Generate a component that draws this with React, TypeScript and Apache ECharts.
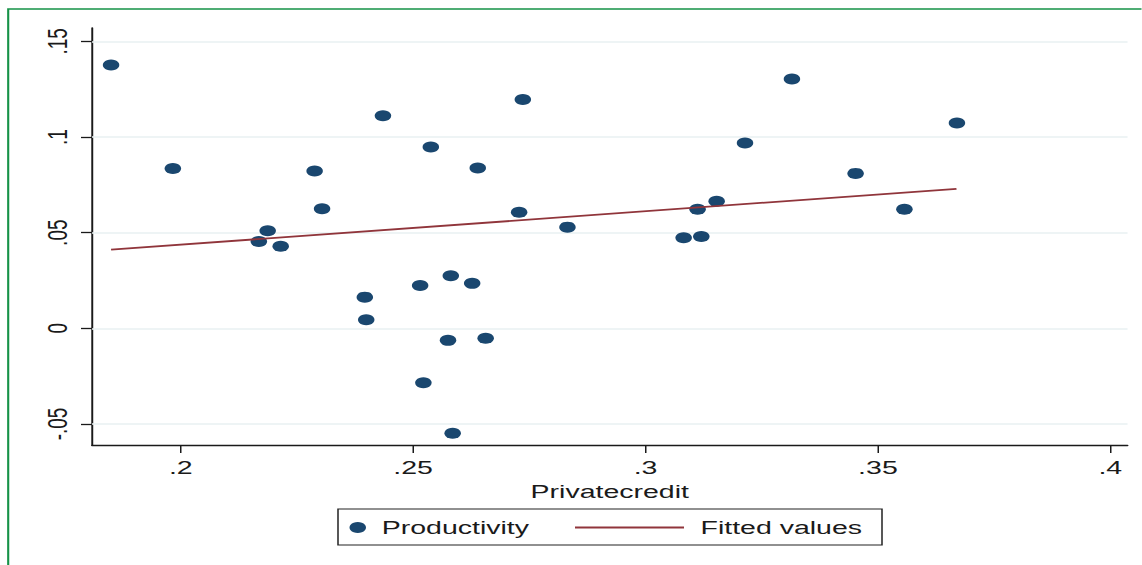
import React, { useEffect, useRef } from 'react';
import * as echarts from 'echarts';

// ---- data ----
const privateCredit = [
  0.1850, 0.1983, 0.2168, 0.2187, 0.2215, 0.2288, 0.2304, 0.2396, 0.2399, 0.2435,
  0.2515, 0.2522, 0.2538, 0.2575, 0.2581, 0.2585, 0.2627, 0.2639, 0.2656, 0.2728,
  0.2736, 0.2832, 0.3082, 0.3112, 0.3120, 0.3153, 0.3214, 0.3315, 0.3452, 0.3557,
  0.3670,
];
const productivity = [
  0.1377, 0.0835, 0.0454, 0.0510, 0.0429, 0.0823, 0.0625, 0.0163, 0.0045, 0.1111,
  0.0224, -0.0285, 0.0948, -0.0063, 0.0275, -0.0548, 0.0235, 0.0838, -0.0052, 0.0607,
  0.1196, 0.0529, 0.0473, 0.0622, 0.0480, 0.0664, 0.0969, 0.1303, 0.0810, 0.0622,
  0.1073,
];
const fittedX = [0.1850, 0.3669];
const fittedY = [0.0411, 0.0729];

const xTickValues = [0.2, 0.25, 0.3, 0.35, 0.4];
const xTickLabels = ['.2', '.25', '.3', '.35', '.4'];
const yTickValues = [-0.05, 0, 0.05, 0.1, 0.15];
const yTickLabels = ['-.05', '0', '.05', '.1', '.15'];

const X_MIN = 0.1809;
const X_MAX = 0.4037;
const Y_MIN = -0.061;
const Y_MAX = 0.157;

// the reference image is stretched horizontally
const STRETCH = 1.5;
const W = 1142;
const H = 565;
const IW = W / STRETCH;
const sx = (px: number) => px / STRETCH;

const FONT = "'Liberation Sans', Arial, sans-serif";
const TEXT = '#1a1a1a';

const lookup = (values: number[], labels: string[]) => (v: number) => {
  const i = values.findIndex((t) => Math.abs(t - v) < 1e-9);
  return i >= 0 ? labels[i] : '';
};

export default function App() {
  const ref = useRef<HTMLDivElement>(null);

  useEffect(() => {
    if (!ref.current) return;
    const chart = echarts.init(ref.current, null, { renderer: 'svg' });
    const option: any = {
      animation: false,
      backgroundColor: '#ffffff',
      textStyle: { fontFamily: FONT },
      grid: { left: sx(92), right: sx(14), top: 28, bottom: 120, containLabel: false },
      xAxis: {
        type: 'value',
        min: X_MIN,
        max: X_MAX,
        name: 'Privatecredit',
        nameLocation: 'middle',
        nameGap: 33,
        nameTextStyle: { fontSize: 19, color: TEXT, fontFamily: FONT },
        axisLine: { show: true, onZero: false, lineStyle: { color: TEXT, width: 1.3 } },
        axisTick: { show: true, customValues: xTickValues, length: 8, lineStyle: { color: TEXT, width: 1 } },
        axisLabel: {
          customValues: xTickValues,
          formatter: lookup(xTickValues, xTickLabels),
          fontSize: 19,
          color: TEXT,
          fontFamily: FONT,
          margin: 13,
        },
        splitLine: { show: false },
      },
      yAxis: {
        type: 'value',
        min: Y_MIN,
        max: Y_MAX,
        axisLine: { show: true, onZero: false, lineStyle: { color: TEXT, width: 1.3 } },
        axisTick: { show: true, customValues: yTickValues, length: sx(11), lineStyle: { color: TEXT, width: 1.3 } },
        axisLabel: {
          customValues: yTickValues,
          formatter: lookup(yTickValues, yTickLabels),
          rotate: 90,
          fontSize: 19,
          color: TEXT,
          fontFamily: FONT,
          margin: sx(21),
        },
        splitLine: { show: false },
      },
      legend: [
        {
          data: ['Productivity'],
          left: sx(357) - 5,
          top: 518,
          padding: 0,
          itemWidth: 22,
          itemHeight: 11,
          icon: 'circle',
          selectedMode: false,
          textStyle: { fontSize: 19, color: TEXT, fontFamily: FONT },
        },
        {
          data: [{ name: 'Fitted values', icon: 'rect' }],
          left: sx(575),
          top: 518,
          padding: 0,
          itemWidth: sx(109),
          itemHeight: 2,
          selectedMode: false,
          itemStyle: { color: '#90353b' },
          textStyle: { fontSize: 19, color: TEXT, fontFamily: FONT, padding: [0, 0, 0, 6] },
        },
      ],
      graphic: [
        {
          type: 'rect',
          silent: true,
          z: 100,
          shape: { x: sx(8.2), y: 9, width: 2000, height: 1000 },
          style: { fill: 'none', stroke: '#169247', lineWidth: 1.4 },
        },
        {
          type: 'rect',
          silent: true,
          z: 100,
          shape: { x: sx(338), y: 509, width: sx(544), height: 36 },
          style: { fill: 'none', stroke: '#222222', lineWidth: 1 },
        },
      ],
      series: [
        {
          type: 'line',
          name: 'grid',
          data: [],
          silent: true,
          markLine: {
            silent: true,
            z: 1,
            symbol: ['none', 'none'],
            label: { show: false },
            lineStyle: { color: '#e8f0f2', width: 1.6, type: 'solid' },
            data: yTickValues.map((v) => ({ yAxis: v })),
          },
        },
        {
          type: 'scatter',
          name: 'Productivity',
          z: 3,
          symbol: 'circle',
          symbolSize: 11,
          itemStyle: { color: '#1a476f', opacity: 1 },
          data: privateCredit.map((x, i) => [x, productivity[i]]),
        },
        {
          type: 'line',
          name: 'Fitted values',
          z: 4,
          symbol: 'none',
          showSymbol: false,
          lineStyle: { color: '#90353b', width: 1.8 },
          itemStyle: { color: '#90353b' },
          data: fittedX.map((x, i) => [x, fittedY[i]]),
        },
      ],
    };
    chart.setOption(option);
    return () => chart.dispose();
  }, []);

  return (
    <div
      style={{
        position: 'fixed',
        left: 0,
        top: 0,
        width: W,
        height: H,
        overflow: 'hidden',
        background: '#ffffff',
      }}
    >
      <div
        ref={ref}
        style={{
          width: IW,
          height: H,
          transform: `scaleX(${STRETCH})`,
          transformOrigin: '0 0',
        }}
      />
    </div>
  );
}
